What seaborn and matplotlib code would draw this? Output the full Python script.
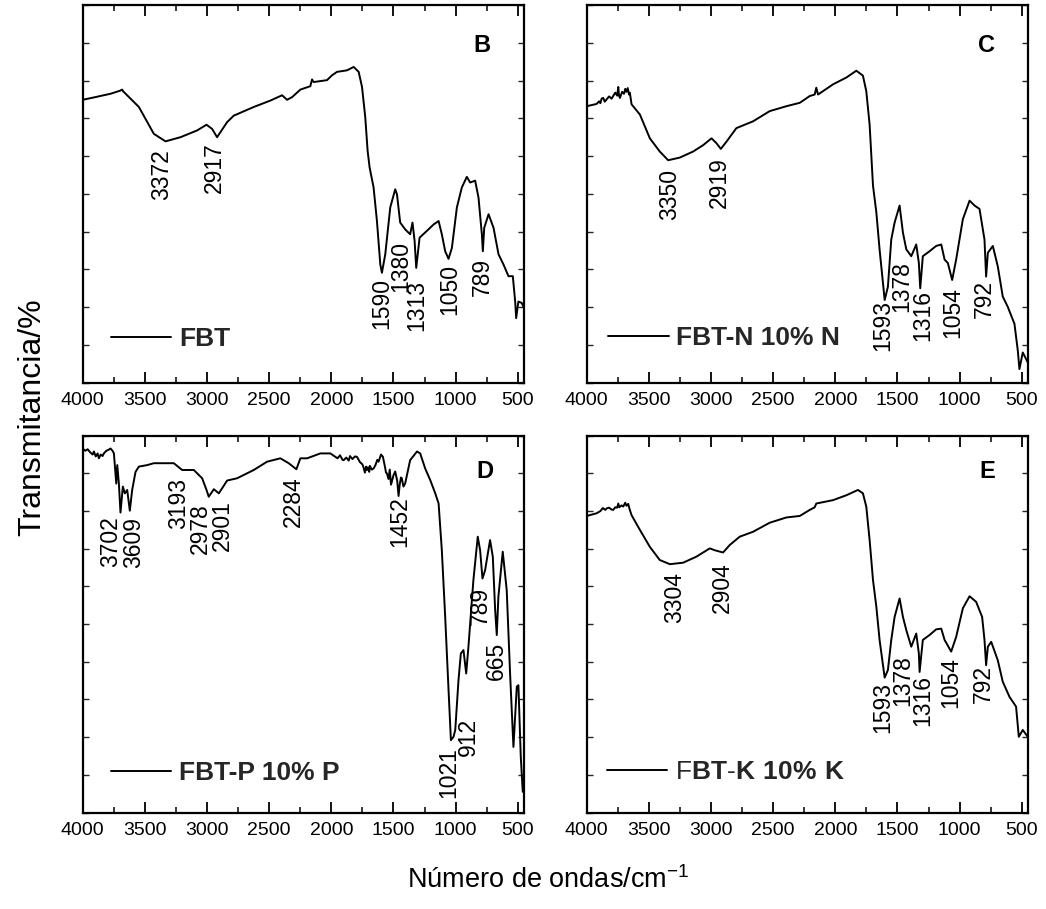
import numpy as np
import pandas as pd
import matplotlib
matplotlib.use("Agg")
import matplotlib.pyplot as plt
import seaborn as sns
from matplotlib import font_manager as fm

sns.set_theme(style="white")
_names = {f.name for f in fm.fontManager.ttflist}
NARROW = "Liberation Sans Narrow" if "Liberation Sans Narrow" in _names else "Liberation Sans"
REG = "Liberation Sans"
plt.rcParams["font.family"] = [NARROW, "DejaVu Sans"]
plt.rcParams["mathtext.fontset"] = "custom"
plt.rcParams["mathtext.rm"] = NARROW
plt.rcParams["mathtext.bf"] = NARROW + ":bold"

# ---------------- data ----------------
# Panel B : FBT
wn_B = [4000, 3900, 3776, 3700, 3682, 3676, 3548, 3428, 3334, 3213, 3079, 3004, 2959, 2919, 2838, 2785,
        2624, 2490, 2396, 2356, 2316, 2249, 2169, 2155, 2142, 2035, 1994, 1954, 1874, 1820, 1780,
        1753, 1727, 1708, 1692, 1660, 1633, 1606, 1593, 1566, 1526, 1486, 1472, 1446, 1406, 1366,
        1347, 1330, 1317, 1290, 1231, 1177, 1137, 1111, 1084, 1057, 1030, 990, 950, 910, 883, 843,
        816, 789, 781, 770, 735, 695, 655, 615, 575, 540, 521, 513, 495, 468, 450]
T_B = [74.9, 75.6, 76.5, 77.3, 77.6, 77.2, 73.0, 65.9, 63.9, 65.0, 66.8, 68.3, 67.2, 65.0, 69.0, 70.7,
       73.0, 74.7, 76.1, 74.9, 75.6, 77.6, 78.5, 80.3, 79.6, 80.1, 81.4, 82.3, 82.7, 83.6, 82.3,
       78.3, 70.3, 61.4, 57.0, 51.7, 42.8, 31.3, 29.1, 34.0, 46.4, 51.2, 49.9, 42.4, 40.6, 39.3,
       42.4, 37.5, 30.4, 38.4, 40.2, 41.9, 42.8, 39.3, 34.8, 32.8, 35.7, 46.4, 51.7, 54.5, 53.0, 53.5,
       49.0, 39.3, 34.8, 41.0, 44.6, 41.0, 34.0, 31.3, 28.2, 28.2, 21.5, 17.1, 21.5, 21.1, 19.8]

# Panel C : FBT-N 10% N
wn_C = [4000, 3921, 3900, 3890, 3880, 3867, 3855, 3840, 3820, 3800, 3787, 3770, 3755, 3746, 3740,
        3733, 3715, 3700, 3690, 3680, 3670, 3660, 3653, 3639, 3572, 3492, 3412, 3345,
        3251, 3144, 3063, 2996, 2956, 2921, 2876, 2796, 2662, 2528, 2394, 2286, 2206, 2166, 2153,
        2139, 2018, 1911, 1831, 1778, 1751, 1724, 1697, 1670, 1644, 1603, 1577, 1550, 1523, 1483,
        1456, 1429, 1389, 1349, 1328, 1317, 1296, 1242, 1189, 1148, 1121, 1095, 1060, 1028, 974,
        920, 880, 840, 800, 787, 773, 733, 693, 653, 613, 559, 532, 519, 492, 452]
T_C = [73.2, 73.8, 74.5, 74.0, 75.2, 75.4, 74.4, 75.0, 75.8, 75.2, 75.9, 76.8, 76.0, 78.3, 76.0,
       75.4, 77.0, 76.5, 77.8, 77.0, 78.0, 76.3, 76.8, 73.7, 71.0, 64.7, 61.2, 58.9,
       59.6, 61.2, 62.9, 64.7, 63.4, 61.9, 63.8, 67.4, 69.2, 71.9, 73.2, 74.1, 75.9, 76.3, 78.1,
       76.3, 79.0, 80.8, 82.6, 81.3, 77.2, 68.3, 52.2, 45.1, 35.3, 21.9, 25.4, 37.9, 42.4, 46.9,
       39.7, 35.3, 33.5, 36.6, 31.7, 25.0, 33.5, 34.8, 36.2, 36.6, 32.6, 31.7, 27.2, 32.6, 43.3,
       48.2, 46.9, 46.0, 37.9, 28.1, 34.4, 36.2, 30.8, 22.8, 20.1, 15.6, 8.5, 3.6, 8.0, 5.4]

# Panel D : FBT-P 10% P
wn_D = [4000, 3980, 3960, 3940, 3920, 3910, 3895, 3880, 3870, 3855, 3840, 3830, 3810, 3790, 3776,
        3760, 3749, 3730, 3722, 3709, 3696, 3677, 3661, 3642, 3621, 3602,
        3575, 3548, 3481, 3428, 3267, 3200, 3106, 3039, 3004, 2986, 2945, 2905, 2838, 2758, 2624,
        2517, 2410, 2343, 2281, 2249, 2195, 2088, 2008, 1950, 1930, 1910, 1901, 1880, 1860, 1850,
        1830, 1810, 1794, 1770, 1750, 1740, 1730, 1720, 1714, 1705, 1695, 1690, 1675, 1660, 1645,
        1630, 1620, 1600, 1585, 1570, 1560, 1553, 1540, 1530, 1520, 1513, 1500, 1486, 1470, 1459,
        1450, 1440, 1433, 1420, 1406, 1366, 1311, 1285, 1245, 1204, 1164,
        1137, 1111, 1084, 1057, 1038, 1017, 1003, 977, 958, 937, 915, 897, 857, 822, 803, 784, 763,
        723, 701, 682, 669, 656, 621, 589, 562, 535, 508, 495, 476, 460]
T_D = [96.6, 96.0, 96.4, 95.6, 95.0, 95.8, 94.5, 95.3, 94.0, 95.0, 94.6, 95.3, 96.0, 96.3, 96.6,
       96.0, 95.3, 87.3, 92.2, 87.3, 79.6, 86.5, 84.7, 85.6, 80.1, 85.6,
       90.4, 91.8, 92.2, 92.7, 92.7, 90.9, 90.9, 88.7, 85.6, 83.8, 85.8, 84.7, 88.1, 88.7, 90.9,
       93.1, 94.0, 92.7, 91.1, 94.0, 94.0, 95.3, 95.3, 94.0, 94.8, 93.6, 93.5, 94.2, 93.4, 94.6,
       93.8, 94.5, 94.4, 93.0, 92.4, 91.5, 90.2, 91.8, 90.9, 91.6, 90.4, 92.0, 91.0, 91.3, 92.2,
       93.6, 93.1, 95.0, 94.4, 92.0, 90.2, 90.0, 88.5, 91.0, 87.0, 87.8, 89.5, 90.5, 88.0, 84.0,
       87.0, 88.9, 88.7, 86.5, 87.3, 93.5, 95.8, 95.3, 91.3, 88.2, 84.7,
       82.0, 69.6, 51.9, 32.5, 19.2, 20.1, 21.9, 35.1, 42.2, 43.1, 36.9, 44.0, 61.7, 73.2, 69.6,
       62.1, 64.3, 72.3, 67.9, 53.7, 47.1, 57.3, 69.2, 59.0, 36.9, 17.4, 33.4, 33.8, 14.8, 5.5]

# Panel E : FBT-K 10% K
wn_E = [4000, 3921, 3890, 3870, 3850, 3840, 3820, 3800, 3787, 3770, 3755, 3746, 3738, 3720, 3706,
        3690, 3680, 3666, 3655, 3639, 3572, 3492, 3412, 3331, 3224, 3117, 3010,
        2970, 2903, 2849, 2769, 2662, 2528, 2394, 2286, 2206, 2166, 2153, 2018, 1911, 1818, 1778,
        1751, 1724, 1697, 1670, 1644, 1603, 1577, 1550, 1523, 1483, 1456, 1429, 1389, 1349, 1328,
        1322, 1296, 1242, 1189, 1148, 1121, 1068, 1028, 974, 920, 867, 819, 800, 787, 773, 746,
        693, 653, 599, 546, 524, 492, 452]
T_E = [78.7, 79.4, 80.0, 80.8, 80.3, 80.7, 80.9, 80.4, 80.3, 81.0, 80.9, 82.0, 81.0, 81.5, 81.2,
       82.2, 81.4, 81.9, 80.5, 78.9, 75.0, 70.5, 67.0, 65.9, 66.3, 67.9, 70.1,
       69.6, 69.0, 71.0, 73.2, 74.5, 76.9, 78.3, 78.7, 80.3, 81.0, 82.0, 82.9, 84.2, 85.6, 84.7,
       81.2, 72.3, 61.7, 54.6, 45.8, 35.8, 37.8, 45.8, 51.9, 56.8, 51.9, 48.4, 44.0, 47.5, 42.2,
       37.3, 45.8, 47.1, 48.6, 48.8, 45.8, 42.7, 46.6, 54.2, 57.4, 55.9, 51.9, 45.8, 39.1, 44.0, 45.3,
       40.4, 34.7, 30.7, 28.1, 20.1, 21.9, 20.1]

# peak labels: text, x position, top of text
lab_B = ["3372", "2917", "1590", "1380", "1313", "1050", "789"]
lx_B = [3366, 2937, 1593, 1440, 1311, 1044, 784]
ly_B = [61.9, 63.7, 27.7, 37.5, 27.3, 31.3, 33.1]

lab_C = ["3350", "2919", "1593", "1378", "1316", "1054", "792"]
lx_C = [3331, 2935, 1617, 1469, 1296, 1054, 800]
ly_C = [56.5, 59.6, 21.9, 32.1, 24.6, 25.4, 27.2]

lab_D = ["3702", "3609", "3193", "2978", "2901", "2284", "1452", "1021", "912", "789", "665"]
lx_D = [3776, 3588, 3227, 3052, 2880, 2302, 1451, 1057, 896, 802, 674]
ly_D = [78.5, 78.5, 88.7, 82.0, 82.9, 89.3, 83.8, 17.4, 25.0, 59.9, 45.3]

lab_E = ["3304", "2904", "1593", "1378", "1316", "1054", "792"]
lx_E = [3296, 2908, 1617, 1460, 1298, 1068, 813]
ly_E = [63.9, 66.5, 34.7, 41.8, 36.5, 41.3, 39.1]

panel_letters = ["B", "C", "D", "E"]
legend_labels = ["FBT", "FBT-N 10% N", "FBT-P 10% P", "F$\\mathbf{BT}$-$\\mathbf{K\\ 10\\%\\ K}$"]
xtick_major = [4000, 3500, 3000, 2500, 2000, 1500, 1000, 500]
xtick_minor = [3750, 3250, 2750, 2250, 1750, 1250, 750]

# ---------------- figure ----------------
W, H = 1046, 909
fig = plt.figure(figsize=(W / 100, H / 100), dpi=100)
fig.patch.set_facecolor("white")

# axes boxes in pixels: left, top, right, bottom
boxes = [(82.7, 5, 524, 382.7), (586.7, 5, 1028, 382.7),
         (82.7, 435.7, 524, 812.5), (586.7, 435.7, 1028, 812.5)]
leg_pos = [(0.063, 0.116), (0.048, 0.118), (0.063, 0.105), (0.045, 0.107)]
letter_pos = [(0.905, 0.894), (0.905, 0.894), (0.912, 0.904), (0.908, 0.904)]

series = [(wn_B, T_B, lab_B, lx_B, ly_B), (wn_C, T_C, lab_C, lx_C, ly_C),
          (wn_D, T_D, lab_D, lx_D, ly_D), (wn_E, T_E, lab_E, lx_E, ly_E)]

for i, (wn, T, labs, lxs, lys) in enumerate(series):
    l, t, r, b = boxes[i]
    ax = fig.add_axes([l / W, 1 - b / H, (r - l) / W, (b - t) / H])
    ax.set_facecolor("white")
    df = pd.DataFrame({"wn": wn, "T": T})
    sns.lineplot(data=df, x="wn", y="T", ax=ax, color="black", linewidth=1.4,
                 estimator=None, sort=False, label=legend_labels[i])
    ax.set_xlim(4000, 450)
    ax.set_ylim(0, 100)
    ax.set_xticks(xtick_major)
    ax.set_xticklabels([str(v) for v in xtick_major])
    ax.set_xticks(xtick_minor, minor=True)
    ax.set_yticks(np.linspace(0, 100, 11))
    ax.set_yticklabels([])
    ax.tick_params(axis="x", which="major", direction="in", length=8, width=1.3,
                   top=True, bottom=True, labelsize=14, pad=7, colors="black")
    ax.tick_params(axis="x", which="minor", direction="in", length=4, width=1.3,
                   top=True, bottom=True)
    ax.tick_params(axis="y", which="major", direction="in", length=4, width=1.0,
                   left=True, right=True, labelleft=False)
    ax.set_xlabel("")
    ax.set_ylabel("")
    for s in ax.spines.values():
        s.set_linewidth(1.6)
        s.set_color("black")
    ax.grid(False)

    for txt, x, y in zip(labs, lxs, lys):
        ax.text(x, y, txt, rotation=90, ha="center", va="top", fontsize=16.5,
                color="black", family=[NARROW, "DejaVu Sans"])

    ax.text(letter_pos[i][0], letter_pos[i][1], panel_letters[i], transform=ax.transAxes,
            ha="center", va="center", fontsize=17, fontweight="bold", color="black")

    weight = "normal" if i == 3 else "bold"
    leg = ax.legend(loc="center left", bbox_to_anchor=leg_pos[i], frameon=False,
                    handlelength=2.3, handletextpad=0.3, borderpad=0, borderaxespad=0,
                    prop={"family": NARROW, "size": 19, "weight": weight})
    for h in leg.get_lines():
        h.set_linewidth(1.4)

fig.text(32 / W, 1 - 417 / H, "Transmitancia/%", rotation=90, ha="center", va="center",
         fontsize=23, family=[REG, "DejaVu Sans"], color="black")
fig.text(548 / W, 1 - 880 / H, "Número de ondas/cm$^{-1}$", ha="center", va="center",
         fontsize=19.5, color="black")

fig.savefig("out.png", dpi=100, facecolor="white")
